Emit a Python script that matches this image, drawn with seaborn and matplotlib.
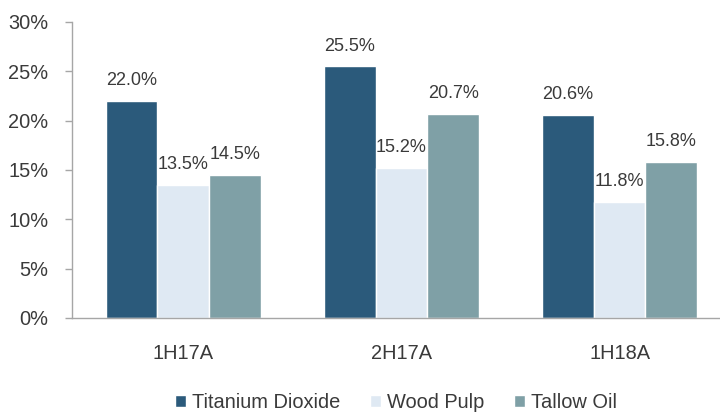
import matplotlib
matplotlib.use("Agg")
import matplotlib.pyplot as plt
import seaborn as sns
import pandas as pd

# Données
periods  = ["1H17A", "2H17A", "1H18A"]
series   = ["Titanium Dioxide", "Wood Pulp", "Tallow Oil"]
titanium = [22.0, 25.5, 20.6]
wood     = [13.5, 15.2, 11.8]
tallow   = [14.5, 20.7, 15.8]
y_ticks  = [0, 5, 10, 15, 20, 25, 30]

colors = ["#2B5A7B", "#DFE9F3", "#7FA0A6"]
text_c = "#3A3A3A"
axis_c = "#A6A6A6"

df = pd.DataFrame({
    "period": periods * 3,
    "series": [series[0]] * 3 + [series[1]] * 3 + [series[2]] * 3,
    "value" : titanium + wood + tallow,
})

sns.set_style("white")
plt.rcParams["font.family"] = ["Liberation Sans", "DejaVu Sans"]

fig = plt.figure(figsize=(7.2, 4.15), dpi=100)
ax = fig.add_axes([0.1, 0.234, 0.9, 0.713])

sns.barplot(data=df, x="period", y="value", hue="series", order=periods,
            hue_order=series, palette=colors, width=0.71, saturation=1,
            errorbar=None, ax=ax)

# étiquettes de valeur au-dessus des barres
for cont in ax.containers:
    ax.bar_label(cont, fmt="%.1f%%", padding=8.5, fontsize=13, color=text_c)

ax.set_ylim(0, 30)
ax.set_xlim(-0.51, 2.46)
ax.set_yticks(y_ticks)
ax.set_yticklabels([f"{t}%" for t in y_ticks])
ax.set_xlabel("")
ax.set_ylabel("")

for s in ["top", "right"]:
    ax.spines[s].set_visible(False)
for s in ["left", "bottom"]:
    ax.spines[s].set_color(axis_c)
    ax.spines[s].set_linewidth(1)

ax.tick_params(axis="y", length=5, width=1, color=axis_c, direction="out",
               left=True, pad=12, labelsize=14.4, labelcolor=text_c)
ax.tick_params(axis="x", length=0, pad=19, labelsize=14.4, labelcolor=text_c)

ax.legend(loc="center", bbox_to_anchor=(0.5, -0.287),
          ncol=3, frameon=False, fontsize=14.4, handlelength=0.55, handleheight=0.55,
          handletextpad=0.3, columnspacing=1.5, labelcolor=text_c)

fig.savefig("out.png", dpi=100)
